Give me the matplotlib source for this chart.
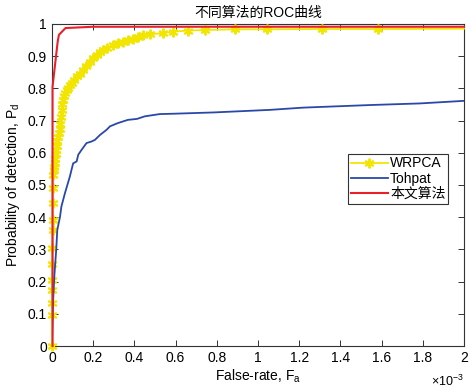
import matplotlib
matplotlib.use('Agg')
import matplotlib.pyplot as plt
import numpy as np
from matplotlib.ticker import FuncFormatter, MultipleLocator

plt.rcParams['font.family'] = ['Liberation Sans', 'Noto Sans CJK SC', 'DejaVu Sans']
plt.rcParams['mathtext.fontset'] = 'custom'
plt.rcParams['mathtext.rm'] = 'Liberation Sans'
plt.rcParams['mathtext.it'] = 'Liberation Sans'

# false-alarm rate in units of 1e-3
wrpca_x = [0.000, 0.002, 0.002, 0.001, 0.001, 0.002, 0.002, 0.003, 0.003, 0.004, 0.004,
           0.006, 0.008, 0.010, 0.013, 0.016, 0.018, 0.021, 0.024, 0.027, 0.029, 0.033,
           0.037, 0.039, 0.043, 0.047, 0.051, 0.055, 0.060, 0.065, 0.071, 0.080, 0.088,
           0.096, 0.105, 0.120, 0.135, 0.152, 0.165, 0.184, 0.200, 0.217, 0.232, 0.248,
           0.265, 0.296, 0.320, 0.345, 0.370, 0.393, 0.420, 0.442, 0.476, 0.539, 0.587,
           0.660, 0.743, 0.888, 1.042, 1.309, 1.583, 2.000]
wrpca_y = [0.000, 0.096, 0.134, 0.174, 0.205, 0.255, 0.304, 0.360, 0.390, 0.444, 0.490,
           0.530, 0.545, 0.555, 0.568, 0.580, 0.595, 0.610, 0.620, 0.635, 0.650, 0.660,
           0.673, 0.690, 0.710, 0.733, 0.750, 0.764, 0.775, 0.785, 0.795, 0.800, 0.810,
           0.816, 0.825, 0.837, 0.845, 0.857, 0.870, 0.883, 0.895, 0.904, 0.912, 0.919,
           0.925, 0.935, 0.940, 0.945, 0.950, 0.953, 0.960, 0.966, 0.968, 0.971, 0.976,
           0.979, 0.981, 0.983, 0.983, 0.984, 0.984, 0.985]

tohpat_x = [0.000, 0.006, 0.012, 0.021, 0.026, 0.039, 0.046, 0.063, 0.087, 0.103, 0.120,
            0.128, 0.144, 0.168, 0.193, 0.209, 0.233, 0.265, 0.282, 0.320, 0.369, 0.413,
            0.451, 0.524, 0.587, 0.783, 1.058, 1.220, 1.544, 1.786, 2.000]
tohpat_y = [0.000, 0.143, 0.220, 0.300, 0.360, 0.400, 0.433, 0.474, 0.526, 0.567, 0.573,
            0.594, 0.609, 0.630, 0.635, 0.640, 0.655, 0.671, 0.682, 0.692, 0.702, 0.705,
            0.713, 0.720, 0.721, 0.725, 0.733, 0.740, 0.748, 0.753, 0.761]

ours_x = [0.003, 0.003, 0.028, 0.034, 0.066, 0.200, 2.000]
ours_y = [0.000, 0.805, 0.945, 0.966, 0.987, 0.991, 0.991]

fig = plt.figure(figsize=(4.72, 3.91), dpi=100)
ax = fig.add_axes([0.110, 0.115, 0.873, 0.824])

ax.plot(wrpca_x, wrpca_y, color='#f2e600', lw=1.3, marker=(6, 2, 0), ms=7, mew=1.4,
        markevery=list(range(len(wrpca_x) - 1)), label='WRPCA', clip_on=False, zorder=3)
ax.plot(tohpat_x, tohpat_y, color='#2a48a8', lw=1.3, label='Tohpat', zorder=3)
ax.plot(ours_x, ours_y, color='#e8202a', lw=1.5, label='本文算法', clip_on=False, zorder=4)

ax.set_xlim(0, 2)
ax.set_ylim(0, 1)
ax.xaxis.set_major_locator(MultipleLocator(0.2))
ax.yaxis.set_major_locator(MultipleLocator(0.1))
fmt = FuncFormatter(lambda v, p: '%g' % round(v, 3))
ax.xaxis.set_major_formatter(fmt)
ax.yaxis.set_major_formatter(fmt)
ax.tick_params(direction='in', top=True, right=True, length=4, width=0.7,
               labelsize=10, colors='#333333', labelcolor='black')
for s in ax.spines.values():
    s.set_linewidth(0.8)
    s.set_color('#333333')

ax.set_title('不同算法的ROC曲线', fontsize=10, pad=5)
ax.set_xlabel('False-rate, F$_\\mathregular{a}$', fontsize=10, labelpad=2)
ax.set_ylabel('Probability of detection, P$_\\mathregular{d}$', fontsize=10, labelpad=4)
ax.text(1.0, -0.085, '×10$^{-3}$', transform=ax.transAxes, ha='right', va='top', fontsize=9)

leg = ax.legend(loc='lower left', bbox_to_anchor=(0.718, 0.441), fontsize=10,
                handlelength=2.7, handletextpad=0.15, borderpad=0.2, labelspacing=0.1,
                borderaxespad=0, fancybox=False, framealpha=1, numpoints=1)
leg.get_frame().set_edgecolor('#333333')
leg.get_frame().set_linewidth(0.8)

fig.savefig('out.png', dpi=100)
